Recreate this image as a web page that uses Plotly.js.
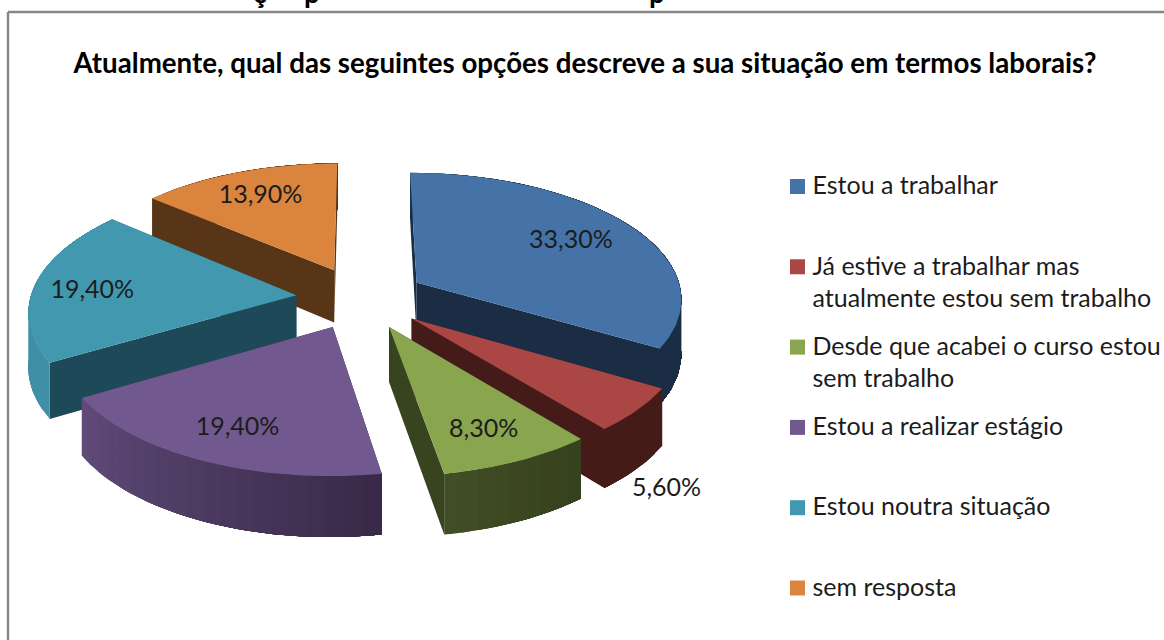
<!DOCTYPE html>
<html><head><meta charset="utf-8">
<script src="https://cdn.plot.ly/plotly-3.0.1.min.js"></script>
<style>html,body{margin:0;padding:0;background:#fff}#c{width:1164px;height:640px}</style>
</head><body><div id="c"></div>
<script>
// ---- data ----
const titleText = "Atualmente, qual das seguintes opções descreve a sua situação em termos laborais?";
const categories = ["Estou a trabalhar","Já estive a trabalhar mas<br>atualmente estou sem trabalho","Desde que acabei o curso estou<br>sem trabalho","Estou a realizar estágio","Estou noutra situação","sem resposta"];
const values = [33.3,5.6,8.3,19.4,19.4,13.9];
const croppedHeading = ["ç","p","p"];
// ---- style ----
const topColors  = ["#4572A7","#AA4643","#89A54E","#71588F","#4198AF","#DB843D"];
const cutColors  = ["#1A2D45","#451B1A","#38431F","#4A3A5E","#1E4958","#593517"];
const wallFrom   = ["#1A2D45","#451B1A","#414D24","#5F4A78","#3F8FA6","#593517"];
const wallTo     = ["#1A2D45","#451B1A","#36411D","#392A49","#3F8FA6","#593517"];
const labelFrac  = [0.72,1.12,0.75,0.75,0.78,0.75];
const labelDrop  = [2,62,5,3,5,3];
const drawOrder  = [5,4,0,1,2,3];
const cx=361, cy=298, Rx=266, Ry=128, persp=0.114, explode=0.2445, depth=53.5;
const legendX=797.5, legendTextX=812.5, legendY0=186.5, legendPitch=80.3, legendLine=32, legendTextShift=1.5;
const headingX=[260,312,657], headingShift=8;
const fontName="Lato, 'Open Sans', sans-serif", ink="#1c1c1c";

const total = values.reduce((a,b)=>a+b,0);
function hexMix(a,b,t){
  const p=h=>[1,3,5].map(i=>parseInt(h.substr(i,2),16)), A=p(a), B=p(b);
  return "rgb("+A.map((v,i)=>Math.round(v+(B[i]-v)*t)).join(",")+")";
}
function proj(X,Y,drop){
  const s=1-persp*Y;
  return [cx+Rx*X*s, cy-Ry*Y*s+(drop||0)*s];
}
const traces=[];
function poly(pts,color){
  traces.push({type:"scatter",mode:"lines",x:pts.map(p=>p[0]),y:pts.map(p=>p[1]),fill:"toself",
    fillcolor:color,line:{color:color,width:0},hoverinfo:"skip",showlegend:false});
}
let cum=0; const slices=values.map((v,i)=>{
  const a0=cum/total*2*Math.PI; cum+=v; const a1=cum/total*2*Math.PI; const m=(a0+a1)/2;
  return {i,v,a0,a1,m,ax:explode*Math.sin(m),ay:explode*Math.cos(m)};
});
function rim(sl,a,drop){ return proj(sl.ax+Math.sin(a),sl.ay+Math.cos(a),drop); }
function apex(sl,drop){ return proj(sl.ax,sl.ay,drop); }
drawOrder.forEach(k=>{
  const sl=slices[k];
  [sl.a0,sl.a1].forEach(a=>poly([apex(sl,0),rim(sl,a,0),rim(sl,a,depth),apex(sl,depth)],cutColors[k]));
  // outer wall: shaded bands, each one running on to the far end so no seams show
  const bands=Math.max(4,Math.round((sl.a1-sl.a0)/0.06));
  const reverse=(k===3||k===2);
  for(let b=0;b<bands;b++){
    const u0=reverse? sl.a1-(sl.a1-sl.a0)*b/bands : sl.a0+(sl.a1-sl.a0)*b/bands;
    const u1=reverse? sl.a0 : sl.a1;
    const n=Math.max(2,Math.round(Math.abs(u1-u0)/0.03));
    const up=[],dn=[];
    for(let j=0;j<=n;j++){const u=u0+(u1-u0)*j/n; up.push(rim(sl,u,0)); dn.unshift(rim(sl,u,depth));}
    poly(up.concat(dn),hexMix(wallFrom[k],wallTo[k],b/(bands-1)));
  }
  const pts=[apex(sl,0)];
  const n=Math.max(12,Math.round((sl.a1-sl.a0)/0.02));
  for(let j=0;j<=n;j++) pts.push(rim(sl,sl.a0+(sl.a1-sl.a0)*j/n,0));
  pts.push(apex(sl,0));
  poly(pts,topColors[k]);
});
const labelPts=slices.map((sl,k)=>{
  const f=labelFrac[k];
  return proj(sl.ax+f*Math.sin(sl.m),sl.ay+f*Math.cos(sl.m),labelDrop[k]);
});
traces.push({type:"scatter",mode:"text",x:labelPts.map(p=>p[0]),y:labelPts.map(p=>p[1]),
  text:values.map(v=>v.toFixed(2).replace(".",",")+"%"),textposition:"middle center",
  textfont:{family:fontName,size:25,color:ink},hoverinfo:"skip",showlegend:false,cliponaxis:false});
traces.push({type:"scatter",mode:"markers",x:categories.map(()=>legendX),y:categories.map((c,i)=>legendY0+i*legendPitch),
  marker:{symbol:"square",size:15,color:topColors},hoverinfo:"skip",showlegend:false});
const lx=[],ly=[],lt=[];
categories.forEach((c,i)=>c.split("<br>").forEach((s,j)=>{lx.push(legendTextX);ly.push(legendY0+legendTextShift+i*legendPitch+j*legendLine);lt.push(s);}));
traces.push({type:"scatter",mode:"text",x:lx,y:ly,text:lt,textposition:"middle right",
  textfont:{family:fontName,size:25,color:ink},hoverinfo:"skip",showlegend:false,cliponaxis:false});

const layout={
  width:1164,height:640,margin:{l:0,r:0,t:0,b:0},paper_bgcolor:"#fff",plot_bgcolor:"#fff",showlegend:false,
  title:{text:"<b>"+titleText+"</b>",x:585/1164,xanchor:"center",y:1-63/640,yanchor:"middle",automargin:false,
    font:{family:fontName,size:27.7,color:"#000"}},
  xaxis:{range:[0,1164],visible:false,fixedrange:true},
  yaxis:{range:[640,0],visible:false,fixedrange:true},
  shapes:[
    {type:"line",xref:"x",yref:"y",x0:8,y0:12,x1:1164,y1:12,line:{color:"#878787",width:2.5}},
    {type:"line",xref:"x",yref:"y",x0:8,y0:12,x1:8,y1:640,line:{color:"#878787",width:2.5}}
  ],
  annotations:croppedHeading.map((t,i)=>({text:"<b>"+t+"</b>",x:headingX[i],y:1,xref:"x",yref:"paper",yshift:headingShift,
    showarrow:false,yanchor:"middle",font:{family:fontName,size:28,color:"#000"}}))
};
Plotly.newPlot("c",traces,layout,{displayModeBar:false,staticPlot:true});
</script></body></html>
